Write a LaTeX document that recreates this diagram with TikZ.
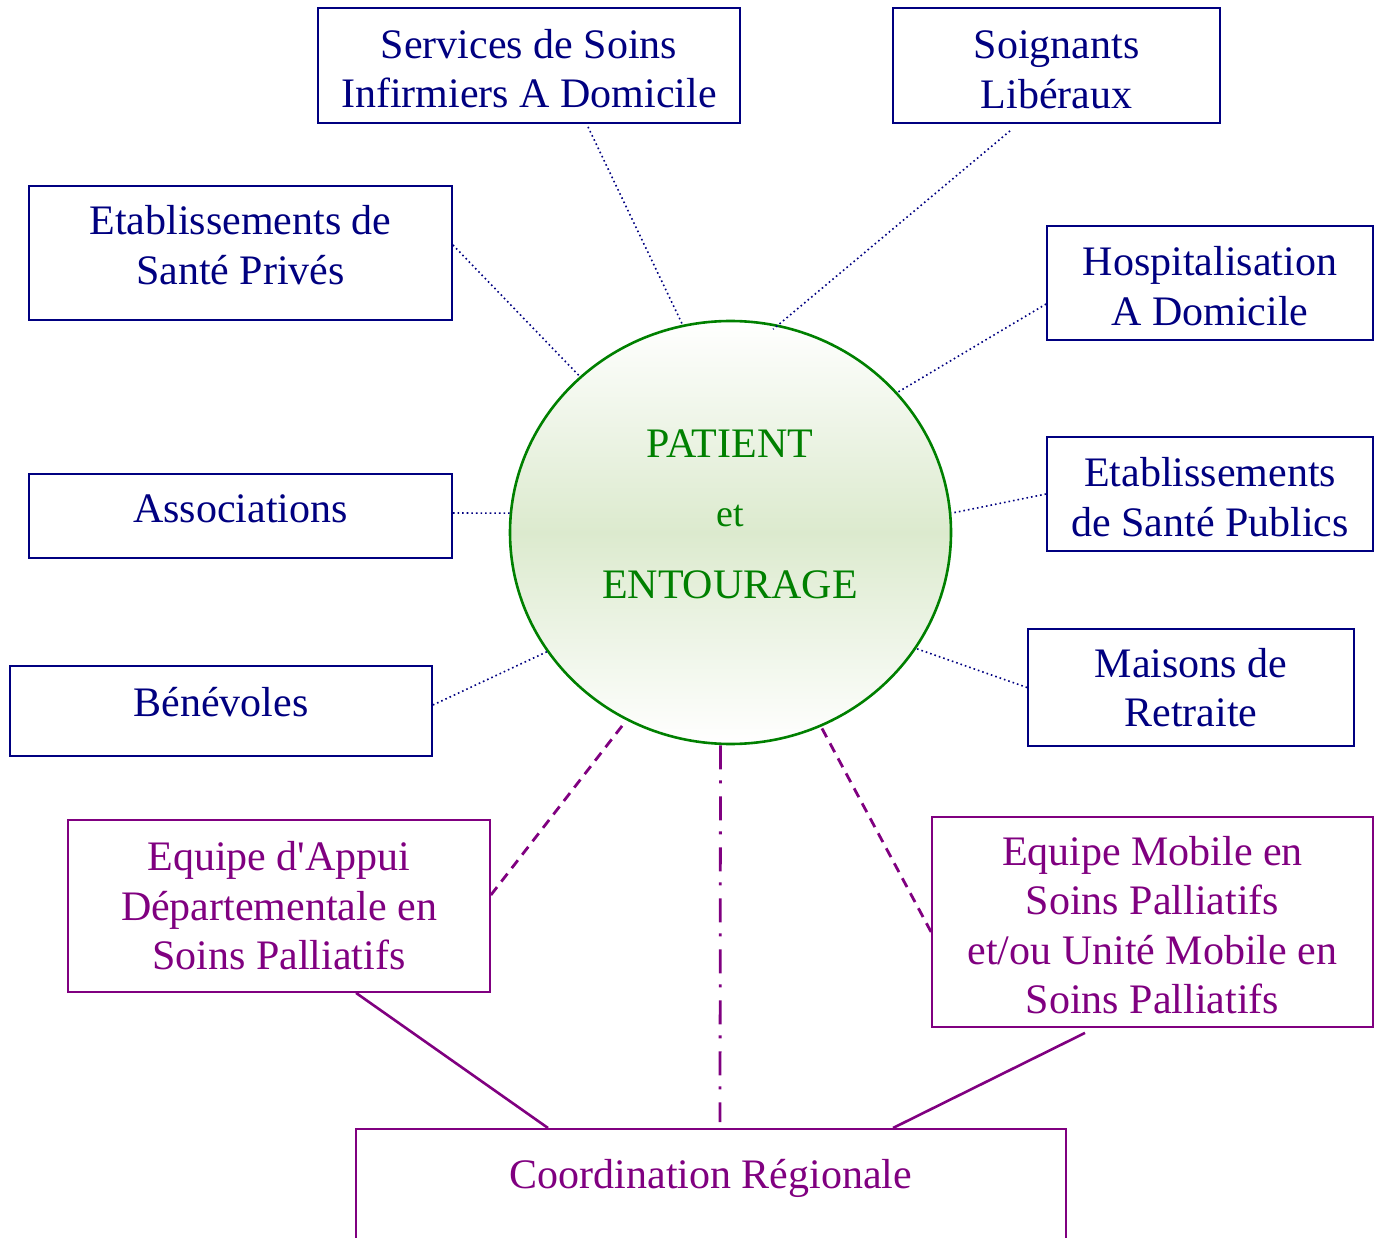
\documentclass[tikz,border=0pt]{standalone}
\usepackage{fontspec}
\setmainfont{Liberation Serif}[Ligatures=TeXOff]
\usetikzlibrary{shapes.geometric}
\definecolor{navyc}{RGB}{0,0,128}
\definecolor{greenc}{RGB}{0,128,0}
\definecolor{purplec}{RGB}{128,0,128}
\definecolor{lightg}{RGB}{220,234,206}
\newcommand{\lowerstrut}{\rule{0pt}{35pt}}
\begin{document}
\begin{tikzpicture}[x=1pt,y=-1pt,
  txt/.style={font=\fontsize{42}{49.5}\selectfont, align=center},
  nbox/.style={txt, draw=navyc, text=navyc, line width=1.8pt, inner sep=0pt},
  pbox/.style={txt, draw=purplec, text=purplec, line width=1.8pt, inner sep=0pt},
  nlink/.style={navyc, line width=1.6pt, dash pattern=on 1.6pt off 3pt},
  pdash/.style={purplec, line width=2.8pt, dash pattern=on 10pt off 7pt},
  pdashdot/.style={purplec, line width=2.8pt, dash pattern=on 24pt off 11pt on 3pt off 13pt},
  psolid/.style={purplec, line width=2.6pt}]
\path[use as bounding box, clip] (0,0) rectangle (1382,1238);

% centre
\node[ellipse, draw=greenc, line width=2.6pt, minimum width=441pt, minimum height=423pt,
  inner sep=0pt, top color=white, bottom color=white, middle color=lightg] (pat) at (730.5,532.5) {};
\node[txt, text=greenc, anchor=base] (l1) at (730,457) {PATIENT};
\node[text=greenc, anchor=base, font=\fontsize{38}{44}\selectfont] (l2) at (730,526) {et};
\node[txt, text=greenc, anchor=base] (l3) at (730,598) {ENTOURAGE};

% navy boxes
\node[nbox, minimum width=422pt, minimum height=115pt] (svc) at (529,65.5) {\lowerstrut Services de Soins\\Infirmiers A Domicile};
\node[nbox, minimum width=327pt, minimum height=115pt] (soi) at (1056.5,65.5) {\rule{0pt}{36pt}Soignants\\Libéraux};
\node[nbox, text depth=16pt, minimum width=423pt, minimum height=134pt] (pri) at (240.5,253) {Etablissements de\\Santé Privés};
\node[nbox, minimum width=326pt, minimum height=114pt] (hos) at (1210,283) {\lowerstrut Hospitalisation\\A Domicile};
\node[nbox, text depth=14pt, minimum width=423pt, minimum height=84pt] (ass) at (240.5,516) {Associations};
\node[nbox, minimum width=326pt, minimum height=114pt] (pub) at (1210,494) {\lowerstrut Etablissements\\de Santé Publics};
\node[nbox, text depth=18pt, minimum width=422pt, minimum height=90pt] (ben) at (221,711) {Bénévoles};
\node[nbox, minimum width=326pt, minimum height=117pt] (mai) at (1191,687.5) {Maisons de\\Retraite};

% purple boxes
\node[pbox, minimum width=422pt, minimum height=172pt] (app) at (279,906) {Equipe d'Appui\\Départementale en\\Soins Palliatifs};
\node[pbox, minimum width=441pt, minimum height=210pt] (mob) at (1152.5,922) {\lowerstrut Equipe Mobile en\\Soins Palliatifs\\et/ou Unité Mobile en\\Soins Palliatifs};
\node[pbox, minimum width=710pt, minimum height=130pt, anchor=north] (coord) at (711,1128) {};
\node[txt, text=purplec] (coordl) at (711,1178) {Coordination Régionale};

% dotted navy links
\draw[nlink] ([xshift=59pt,yshift=-3pt]svc.south) -- (pat.103);
\draw[nlink, shorten >=-7pt] ([xshift=-46.5pt,yshift=-7pt]soi.south) -- (pat.77);
\draw[nlink] ([yshift=8pt]pri.east) -- (pat.134);
\draw[nlink] ([yshift=-21pt]hos.west) -- (pat.40);
\draw[nlink] ([yshift=3pt]ass.east) -- (pat.175);
\draw[nlink] (pub.west) -- (pat.5);
\draw[nlink] ([yshift=6pt]ben.east) -- (pat.213);
\draw[nlink] (mai.west) -- (pat.-32);

% purple links
\draw[pdash] ([yshift=11pt]app.east) -- (pat.241);
\draw[pdash] ([yshift=-10pt]mob.west) -- (pat.295);
\draw[pdashdot] ([xshift=-10pt]pat.south) -- ([xshift=9pt,yshift=6pt]coord.north);
\draw[psolid] ([xshift=77pt]app.south) -- ([xshift=-163pt]coord.north);
\draw[psolid] ([xshift=-67.5pt,yshift=-5pt]mob.south) -- ([xshift=182pt]coord.north);
\end{tikzpicture}
\end{document}
